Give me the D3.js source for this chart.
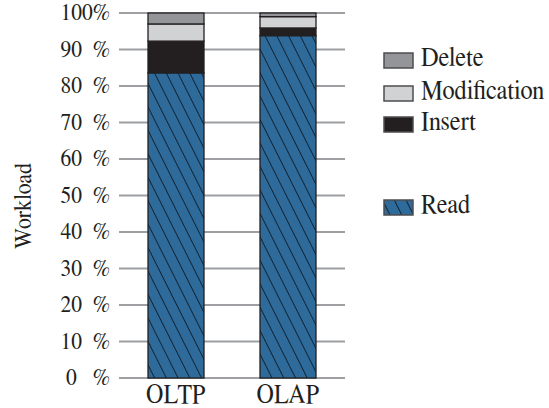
<!DOCTYPE html>
<html>
<head>
<meta charset="utf-8">
<script src="https://cdn.jsdelivr.net/npm/d3@7"></script>
<style>
  html, body { margin: 0; padding: 0; background: #fff; }
  svg { display: block; }
</style>
</head>
<body>
<svg id="chart" width="549" height="408"></svg>
<script>
const categories = ["OLTP", "OLAP"];
const seriesNames = ["Read", "Insert", "Modification", "Delete"];
const readValues = [83.6, 93.8];
const insertValues = [8.7, 2.1];
const modificationValues = [4.7, 3.1];
const deleteValues = [3.0, 1.0];
const tickValues = [0, 10, 20, 30, 40, 50, 60, 70, 80, 90, 100];
const tickLabels = ["0\u2002 %", "10\u2002%", "20\u2002%", "30\u2002%", "40\u2002%", "50\u2002%",
                    "60\u2002%", "70\u2002%", "80\u2002%", "90\u2002%", "100%"];
const legendOrder = ["Delete", "Modification", "Insert", "Read"];

const FONT = '"FreeSerif", "Liberation Serif", "Times New Roman", serif';
const TEXT_COLOR = "#231f20";
const SY = 1.12;
const colors = { Read: "#2e6a9a", Insert: "#231f20", Modification: "#d1d2d4", Delete: "#939598" };

const rows = categories.map((c, i) => ({
  cat: c,
  Read: readValues[i], Insert: insertValues[i],
  Modification: modificationValues[i], Delete: deleteValues[i]
}));

const svg = d3.select("#chart");
const defs = svg.append("defs");
const pat = defs.append("pattern")
  .attr("id", "hatch").attr("patternUnits", "userSpaceOnUse")
  .attr("width", 10.5).attr("height", 10.5)
  .attr("patternTransform", "rotate(-26.6)");
pat.append("rect").attr("width", 10.5).attr("height", 10.5).attr("fill", colors.Read);
pat.append("line").attr("x1", 0).attr("y1", 0).attr("x2", 0).attr("y2", 10.5)
  .attr("stroke", "#0d1a26").attr("stroke-width", 1.7);

const x = d3.scaleBand().domain(categories).range([120, 344]).paddingInner(0.5).paddingOuter(0.25);
const y = d3.scaleLinear().domain([0, 100]).range([378, 13]);

function styleText(sel, size) {
  return sel.style("font-family", FONT).style("font-size", size + "px").style("fill", TEXT_COLOR);
}

// gridlines
svg.append("g").selectAll("line").data(tickValues).join("line")
  .attr("x1", 119).attr("x2", 345)
  .attr("y1", d => y(d)).attr("y2", d => y(d))
  .attr("stroke", "#9d9fa2").attr("stroke-width", 1.8);

// tick labels
styleText(svg.append("g").selectAll("text").data(tickValues).join("text")
  .attr("transform", d => `translate(110,${y(d) + 7}) scale(1,${SY})`)
  .attr("text-anchor", "end")
  .style("white-space", "pre")
  .text((d, i) => tickLabels[i]), 21.5);

// stacked bars
const stack = d3.stack().keys(seriesNames)(rows);
const bars = svg.append("g");
stack.forEach(layer => {
  bars.selectAll(null).data(layer).join("rect")
    .attr("x", d => x(d.data.cat))
    .attr("width", x.bandwidth())
    .attr("y", d => y(d[1]))
    .attr("height", d => y(d[0]) - y(d[1]))
    .attr("fill", layer.key === "Read" ? "url(#hatch)" : colors[layer.key])
    .attr("stroke", "#231f20").attr("stroke-width", 1.3);
});

// x labels
styleText(svg.append("g").selectAll("text").data(categories).join("text")
  .attr("transform", d => `translate(${x(d) + x.bandwidth() / 2},403) scale(1,${SY})`)
  .attr("text-anchor", "middle")
  .text(d => d), 24);

// y axis title
styleText(svg.append("text")
  .attr("transform", `translate(31,206) rotate(-90) scale(1,${SY})`)
  .attr("text-anchor", "middle")
  .text("Workload"), 22);

// legend
const legendY = { Delete: 53, Modification: 86, Insert: 117, Read: 200 };
const lg = svg.append("g");
legendOrder.forEach(k => {
  lg.append("rect").attr("x", 384).attr("y", legendY[k]).attr("width", 29).attr("height", 15)
    .attr("fill", k === "Read" ? "url(#hatch)" : colors[k])
    .attr("stroke", "#4d4d4f").attr("stroke-width", 1.5);
  styleText(lg.append("text")
    .attr("transform", `translate(421,${legendY[k] + 13}) scale(1,${SY})`)
    .text(k), 24.5);
});
</script>
</body>
</html>
